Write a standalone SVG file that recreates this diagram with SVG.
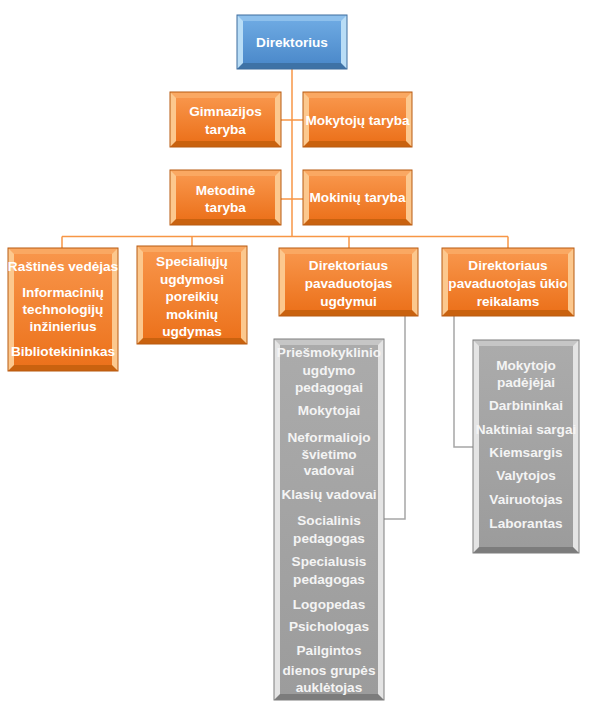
<svg xmlns="http://www.w3.org/2000/svg" width="592" height="716" viewBox="0 0 592 716">
<defs>
<linearGradient id="gOr" x1="0" y1="0" x2="0" y2="1"><stop offset="0" stop-color="#F8954A"/><stop offset="1" stop-color="#EC721C"/></linearGradient>
<linearGradient id="gBl" x1="0" y1="0" x2="0" y2="1"><stop offset="0" stop-color="#6DA9E2"/><stop offset="1" stop-color="#4C8ACB"/></linearGradient>
<linearGradient id="gGr" x1="0" y1="0" x2="0" y2="1"><stop offset="0" stop-color="#ABABAB"/><stop offset="1" stop-color="#9C9C9C"/></linearGradient>
</defs>
<style>
.orange .side{fill:#FCC88E}.orange .top{fill:#FAA862}.orange .bot{fill:#C9620F}.orange .face{fill:url(#gOr)}.orange .edge{fill:none;stroke:#B85A10;stroke-width:1}
.blue .side{fill:#B9DDF6}.blue .top{fill:#8EC0EC}.blue .bot{fill:#3E72A6}.blue .face{fill:url(#gBl)}.blue .edge{fill:none;stroke:#3C6D9E;stroke-width:1}
.gray .side{fill:#E4E4E4}.gray .top{fill:#C6C6C6}.gray .bot{fill:#7C7C7C}.gray .face{fill:url(#gGr)}.gray .edge{fill:none;stroke:#7F7F7F;stroke-width:1}
text{font-family:"Liberation Sans",Arial,sans-serif;font-size:13.6px;font-weight:bold;fill:#FFFFFF;text-anchor:middle}
.gray text{fill:#F4F4F4}
.co{fill:none;stroke:#F79646;stroke-width:1.5}
.cg{fill:none;stroke:#A6A6A6;stroke-width:1.5}
</style>
<g id="connectors">
<path class="co" d="M292,69V237"/>
<path class="co" d="M281,120H303"/>
<path class="co" d="M281,199H303"/>
<path class="co" d="M62,236.5H508"/>
<path class="co" d="M62,236.5V248M192,236.5V246M349,236.5V248M508,236.5V248"/>
<path class="cg" d="M405,316V519H384"/>
<path class="cg" d="M454,316V447H473"/>
</g>
<g id="n-direktorius" class="blue">
<rect class="side" x="237" y="15" width="110" height="54"/>
<polygon class="top" points="237,15 347,15 341,21 243,21"/>
<polygon class="bot" points="237,69 347,69 341,63 243,63"/>
<rect class="face" x="243" y="21" width="98" height="42"/>
<rect class="edge" x="237" y="15" width="110" height="54"/>
<text x="292" y="47">Direktorius</text>
</g>
<g id="n-gimnazijos" class="orange">
<rect class="side" x="170" y="92" width="111" height="55"/>
<polygon class="top" points="170,92 281,92 275,98 176,98"/>
<polygon class="bot" points="170,147 281,147 275,141 176,141"/>
<rect class="face" x="176" y="98" width="99" height="43"/>
<rect class="edge" x="170" y="92" width="111" height="55"/>
<text x="225.5" y="115.5">Gimnazijos</text>
<text x="225.5" y="133.5">taryba</text>
</g>
<g id="n-mokytoju" class="orange">
<rect class="side" x="303" y="92" width="109" height="55"/>
<polygon class="top" points="303,92 412,92 406,98 309,98"/>
<polygon class="bot" points="303,147 412,147 406,141 309,141"/>
<rect class="face" x="309" y="98" width="97" height="43"/>
<rect class="edge" x="303" y="92" width="109" height="55"/>
<text x="357.5" y="124.5">Mokytojų taryba</text>
</g>
<g id="n-metodine" class="orange">
<rect class="side" x="170" y="170" width="111" height="55"/>
<polygon class="top" points="170,170 281,170 275,176 176,176"/>
<polygon class="bot" points="170,225 281,225 275,219 176,219"/>
<rect class="face" x="176" y="176" width="99" height="43"/>
<rect class="edge" x="170" y="170" width="111" height="55"/>
<text x="225.5" y="194.5">Metodinė</text>
<text x="225.5" y="212">taryba</text>
</g>
<g id="n-mokiniu" class="orange">
<rect class="side" x="303" y="170" width="109" height="55"/>
<polygon class="top" points="303,170 412,170 406,176 309,176"/>
<polygon class="bot" points="303,225 412,225 406,219 309,219"/>
<rect class="face" x="309" y="176" width="97" height="43"/>
<rect class="edge" x="303" y="170" width="109" height="55"/>
<text x="357.5" y="202">Mokinių taryba</text>
</g>
<g id="n-rastines" class="orange">
<rect class="side" x="8" y="248" width="110" height="123"/>
<polygon class="top" points="8,248 118,248 112,254 14,254"/>
<polygon class="bot" points="8,371 118,371 112,365 14,365"/>
<rect class="face" x="14" y="254" width="98" height="111"/>
<rect class="edge" x="8" y="248" width="110" height="123"/>
<text x="63" y="271">Raštinės vedėjas</text>
<text x="63" y="297">Informacinių</text>
<text x="63" y="314">technologijų</text>
<text x="63" y="331">inžinierius</text>
<text x="63" y="355.5">Bibliotekininkas</text>
</g>
<g id="n-specialiuju" class="orange">
<rect class="side" x="137" y="246" width="110" height="98"/>
<polygon class="top" points="137,246 247,246 241,252 143,252"/>
<polygon class="bot" points="137,344 247,344 241,338 143,338"/>
<rect class="face" x="143" y="252" width="98" height="86"/>
<rect class="edge" x="137" y="246" width="110" height="98"/>
<text x="192" y="266">Specialiųjų</text>
<text x="192" y="284">ugdymosi</text>
<text x="192" y="301">poreikių</text>
<text x="192" y="318.5">mokinių</text>
<text x="192" y="336">ugdymas</text>
</g>
<g id="n-pav-ugdymui" class="orange">
<rect class="side" x="279" y="248" width="139" height="68"/>
<polygon class="top" points="279,248 418,248 412,254 285,254"/>
<polygon class="bot" points="279,316 418,316 412,310 285,310"/>
<rect class="face" x="285" y="254" width="127" height="56"/>
<rect class="edge" x="279" y="248" width="139" height="68"/>
<text x="348.5" y="269.5">Direktoriaus</text>
<text x="348.5" y="288">pavaduotojas</text>
<text x="348.5" y="305.5">ugdymui</text>
</g>
<g id="n-pav-ukio" class="orange">
<rect class="side" x="442" y="248" width="132" height="68"/>
<polygon class="top" points="442,248 574,248 568,254 448,254"/>
<polygon class="bot" points="442,316 574,316 568,310 448,310"/>
<rect class="face" x="448" y="254" width="120" height="56"/>
<rect class="edge" x="442" y="248" width="132" height="68"/>
<text x="508" y="269.5">Direktoriaus</text>
<text x="508" y="288">pavaduotojas ūkio</text>
<text x="508" y="305.5">reikalams</text>
</g>
<g id="n-ugdymo-personalas" class="gray">
<rect class="side" x="274" y="339" width="110" height="361"/>
<polygon class="top" points="274,339 384,339 378,345 280,345"/>
<polygon class="bot" points="274,700 384,700 378,694 280,694"/>
<rect class="face" x="280" y="345" width="98" height="349"/>
<rect class="edge" x="274" y="339" width="110" height="361"/>
<text x="329" y="357">Priešmokyklinio</text>
<text x="329" y="375">ugdymo</text>
<text x="329" y="392">pedagogai</text>
<text x="329" y="415">Mokytojai</text>
<text x="329" y="442">Neformaliojo</text>
<text x="329" y="458.5">švietimo</text>
<text x="329" y="474.5">vadovai</text>
<text x="329" y="498.5">Klasių vadovai</text>
<text x="329" y="525">Socialinis</text>
<text x="329" y="543">pedagogas</text>
<text x="329" y="566">Specialusis</text>
<text x="329" y="583.5">pedagogas</text>
<text x="329" y="608.5">Logopedas</text>
<text x="329" y="631">Psichologas</text>
<text x="329" y="655">Pailgintos</text>
<text x="329" y="675">dienos grupės</text>
<text x="329" y="692">auklėtojas</text>
</g>
<g id="n-ukio-personalas" class="gray">
<rect class="side" x="473" y="340" width="106" height="213"/>
<polygon class="top" points="473,340 579,340 573,346 479,346"/>
<polygon class="bot" points="473,553 579,553 573,547 479,547"/>
<rect class="face" x="479" y="346" width="94" height="201"/>
<rect class="edge" x="473" y="340" width="106" height="213"/>
<text x="526" y="370">Mokytojo</text>
<text x="526" y="387">padėjėjai</text>
<text x="526" y="410">Darbininkai</text>
<text x="526" y="433.5">Naktiniai sargai</text>
<text x="526" y="457">Kiemsargis</text>
<text x="526" y="480">Valytojos</text>
<text x="526" y="503.5">Vairuotojas</text>
<text x="526" y="527.5">Laborantas</text>
</g>
</svg>
